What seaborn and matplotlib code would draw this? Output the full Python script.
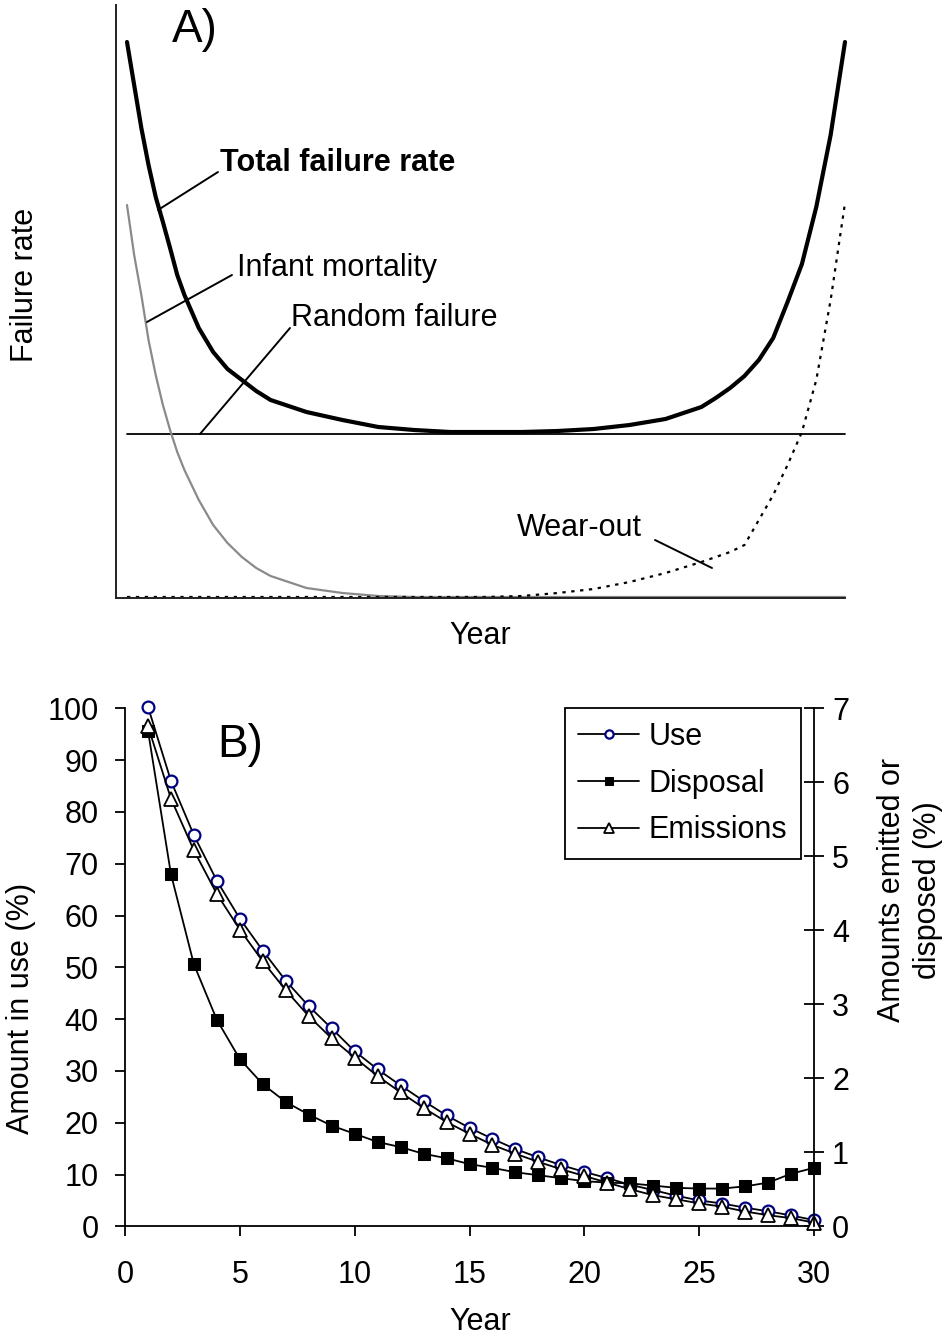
import matplotlib
matplotlib.use("Agg")
import matplotlib.pyplot as plt
import seaborn as sns
import numpy as np

# ---------------- Panel A data (schematic bathtub curve) ----------------
t_a = [0, 1, 2, 3, 4, 5, 6, 7, 8, 10, 12, 14, 16, 18, 20, 25, 30, 35, 40, 45,
       50, 55, 60, 65, 70, 75, 80, 82, 84, 86, 88, 90, 92, 94, 96, 98, 100]
infant = [3.92, 3.42, 3.02, 2.57, 2.22, 1.92, 1.67, 1.45, 1.27, 0.97, 0.72, 0.54,
          0.40, 0.29, 0.21, 0.09, 0.04, 0.01, 0.0, 0.0,
          0.0, 0.0, 0.0, 0.0, 0.0, 0.0, 0.0, 0.0, 0.0, 0.0, 0.0, 0.0, 0.0, 0.0, 0.0, 0.0, 0.0]
wearout = [0.0, 0.0, 0.0, 0.0, 0.0, 0.0, 0.0, 0.0, 0.0, 0.0, 0.0, 0.0,
           0.0, 0.0, 0.0, 0.0, 0.0, 0.0, 0.0, 0.0,
           0.0, 0.01, 0.04, 0.08, 0.15, 0.24, 0.35, 0.40, 0.45, 0.52, 0.77, 1.02,
           1.32, 1.65, 2.17, 2.97, 3.94]
total = [5.55, 5.12, 4.69, 4.32, 4.00, 3.75, 3.49, 3.22, 3.02, 2.69, 2.45, 2.28,
         2.17, 2.06, 1.97, 1.85, 1.77, 1.70, 1.67, 1.65,
         1.65, 1.65, 1.66, 1.68, 1.72, 1.78, 1.90, 1.99, 2.09, 2.21, 2.37, 2.59,
         2.95, 3.33, 3.90, 4.62, 5.55]
random_t = [0, 100]
random_rate = [1.63, 1.63]

# ---------------- Panel B data ----------------
years = list(range(1, 31))
use = [100.3, 86.0, 75.5, 66.7, 59.4, 53.2, 47.4, 42.5, 38.2, 33.8,
       30.3, 27.2, 24.2, 21.4, 19.0, 16.9, 14.9, 13.3, 11.8, 10.5,
       9.3, 8.0, 7.0, 5.9, 5.0, 4.4, 3.6, 2.9, 2.1, 1.2]
disposal = [6.70, 4.76, 3.54, 2.79, 2.26, 1.92, 1.68, 1.51, 1.36, 1.25,
            1.14, 1.07, 0.98, 0.92, 0.84, 0.79, 0.73, 0.69, 0.65, 0.61,
            0.59, 0.58, 0.55, 0.52, 0.51, 0.51, 0.54, 0.59, 0.71, 0.79]
emissions = [6.76, 5.78, 5.08, 4.49, 4.01, 3.58, 3.19, 2.84, 2.54, 2.28,
             2.03, 1.81, 1.60, 1.41, 1.25, 1.10, 0.98, 0.87, 0.77, 0.68,
             0.59, 0.50, 0.42, 0.365, 0.31, 0.265, 0.20, 0.15, 0.11, 0.05]
left_ticks = [0, 10, 20, 30, 40, 50, 60, 70, 80, 90, 100]
right_ticks = [0, 1, 2, 3, 4, 5, 6, 7]
x_ticks = [0, 5, 10, 15, 20, 25, 30]

sns.set_theme(style="white")
plt.rcParams['font.family'] = ['Liberation Sans', 'DejaVu Sans']
plt.rcParams['text.color'] = 'black'
plt.rcParams['axes.labelcolor'] = 'black'
plt.rcParams['xtick.color'] = 'black'
plt.rcParams['ytick.color'] = 'black'
FS = 22

W, H = 947, 1341
fig = plt.figure(figsize=(W / 100, H / 100), dpi=100)

# ================= Panel A =================
axA = fig.add_axes([116 / W, 1 - 598 / H, (845 - 116) / W, (598 - 5) / H])
axA.set_xlim(-1.53, 100)
axA.set_ylim(-0.01, 5.92)
for s in ['top', 'right']:
    axA.spines[s].set_visible(False)
for s in ['left', 'bottom']:
    axA.spines[s].set_color('#222222')
    axA.spines[s].set_linewidth(1.4)

sns.lineplot(x=random_t, y=random_rate, ax=axA, color='black', lw=1.3, clip_on=False)
sns.lineplot(x=t_a, y=infant, ax=axA, color='#8a8a8a', lw=1.6, clip_on=False)
sns.lineplot(x=t_a, y=wearout, ax=axA, color='black', lw=1.6,
             linestyle=(0, (1.5, 2.5)), clip_on=False)
sns.lineplot(x=t_a, y=total, ax=axA, color='black', lw=3.0, clip_on=False)
axA.set_xticks([])
axA.set_yticks([])
axA.set_xlabel('')
axA.set_ylabel('')

def px2a(px, py):
    return ((px - 127) / 7.18, (597 - py) / 100)

arrow = dict(arrowstyle='-', lw=1.4, color='black', shrinkA=0, shrinkB=0)
axA.annotate('', xy=px2a(158, 210), xytext=px2a(218, 172), arrowprops=arrow)
axA.text(*px2a(220, 163), 'Total failure rate', fontsize=FS, fontweight='bold',
         ha='left', va='center')
axA.annotate('', xy=px2a(147, 322), xytext=px2a(232, 275), arrowprops=arrow)
axA.text(*px2a(237, 268), 'Infant mortality', fontsize=FS, ha='left', va='center')
axA.annotate('', xy=px2a(200, 434), xytext=px2a(290, 328), arrowprops=arrow)
axA.text(*px2a(291, 318), 'Random failure', fontsize=FS, ha='left', va='center')
axA.annotate('', xy=px2a(712, 568), xytext=px2a(655, 540), arrowprops=arrow)
axA.text(*px2a(517, 528), 'Wear-out', fontsize=FS, ha='left', va='center')
axA.text(*px2a(195, 30), 'A)', fontsize=33, ha='center', va='center')

# axis titles of panel A (placed in figure pixels)
fig.text(25 / W, 1 - 285 / H, 'Failure rate', fontsize=FS, rotation=90,
         ha='center', va='center')
fig.text(480 / W, 1 - 636 / H, 'Year', fontsize=FS, ha='center', va='center')

# ================= Panel B =================
x0, x1 = 125, 814
y0, y1 = 1226.3, 708.3
axB = fig.add_axes([x0 / W, 1 - y0 / H, (x1 - x0) / W, (y0 - y1) / H])
axR = axB.twinx()

sns.lineplot(x=years, y=use, ax=axB, color='black', lw=1.3, marker='o',
             markersize=8.5, markerfacecolor='white', markeredgecolor='#000080',
             markeredgewidth=1.6, clip_on=False, label='Use', legend=False)
sns.lineplot(x=years, y=disposal, ax=axR, color='black', lw=1.3, marker='s',
             markersize=8.5, markerfacecolor='black', markeredgecolor='black',
             clip_on=False, label='Disposal', legend=False)
sns.lineplot(x=years, y=emissions, ax=axR, color='black', lw=1.3, marker='^',
             markersize=10, markerfacecolor='white', markeredgecolor='black',
             markeredgewidth=1.3, clip_on=False, label='Emissions', legend=False)

axB.set_xlim(0, 30)
axB.set_ylim(0, 100)
axR.set_ylim(0, 7)
axB.set_xticks(x_ticks)
axB.set_yticks(left_ticks)
axR.set_yticks(right_ticks)
axB.set_xticklabels([str(v) for v in x_ticks])
axB.set_yticklabels([str(v) for v in left_ticks])
axR.set_yticklabels([str(v) for v in right_ticks])

for ax in (axB, axR):
    ax.spines['top'].set_visible(False)
    for s in ['left', 'bottom', 'right']:
        ax.spines[s].set_color('black')
        ax.spines[s].set_linewidth(1.3)
axB.spines['right'].set_visible(False)
axR.spines['left'].set_visible(False)
axR.spines['bottom'].set_visible(False)

axB.tick_params(axis='y', which='major', direction='out', length=7, width=1.3,
                pad=12, labelsize=FS, left=True, colors='black')
axB.tick_params(axis='x', which='major', direction='out', length=7, width=1.3,
                pad=17, labelsize=FS, bottom=True, colors='black')
axR.tick_params(axis='y', which='major', direction='inout', length=14, width=1.3,
                pad=6, labelsize=FS, right=True, colors='black')

axB.set_xlabel('Year', fontsize=FS)
axB.xaxis.set_label_coords((480 - x0) / (x1 - x0), -(1307 - y0) / (y0 - y1))
axB.set_ylabel('Amount in use (%)', fontsize=FS)
axB.yaxis.set_label_coords(-(x0 - 36) / (x1 - x0), (y0 - 1008) / (y0 - y1))
axR.set_ylabel('')
fig.text(910 / W, 1 - 890 / H, 'Amounts emitted or\ndisposed (%)', fontsize=FS,
         rotation=90, ha='center', va='center', multialignment='center',
         linespacing=1.25)

axB.text((240 - x0) / (x1 - x0), (y0 - 745) / (y0 - y1), 'B)', fontsize=33,
         ha='center', va='center', transform=axB.transAxes)

handles = axB.get_lines()[:1] + axR.get_lines()[:2]
leg = axR.legend(handles, ['Use', 'Disposal', 'Emissions'], loc='upper right',
                 bbox_to_anchor=((801 - x0) / (x1 - x0), (y0 - 708) / (y0 - y1)),
                 fontsize=FS, frameon=True, fancybox=False, borderaxespad=0,
                 handlelength=2.0, handletextpad=0.3, borderpad=0.45,
                 labelspacing=0.55, markerscale=0.7)
leg.get_frame().set_edgecolor('black')
leg.get_frame().set_linewidth(1.3)
leg.get_frame().set_alpha(1)

fig.savefig('out.png', dpi=100)
